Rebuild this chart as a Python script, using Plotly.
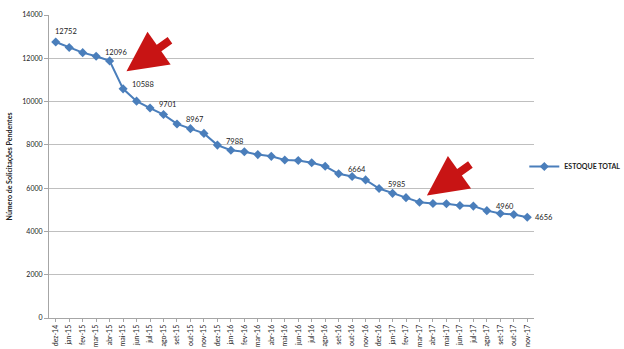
import plotly.graph_objects as go

months = ["dez-14", "jan-15", "fev-15", "mar-15", "abr-15", "mai-15", "jun-15", "jul-15",
          "ago-15", "set-15", "out-15", "nov-15", "dez-15", "jan-16", "fev-16", "mar-16",
          "abr-16", "mai-16", "jun-16", "jul-16", "ago-16", "set-16", "out-16", "nov-16",
          "dez-16", "jan-17", "fev-17", "mar-17", "abr-17", "mai-17", "jun-17", "jul-17",
          "ago-17", "set-17", "out-17", "nov-17"]
estoque = [12752, 12500, 12260, 12096, 11880, 10588, 10020, 9701,
           9400, 8967, 8750, 8530, 7988, 7750, 7680, 7550,
           7470, 7300, 7280, 7170, 7010, 6664, 6540, 6380,
           5985, 5760, 5560, 5350, 5290, 5280, 5200, 5170,
           4960, 4830, 4780, 4656]
labeled_idx = [0, 3, 5, 7, 9, 12, 21, 24, 32, 35]
series_name = "ESTOQUE TOTAL"
yticks = [0, 2000, 4000, 6000, 8000, 10000, 12000, 14000]
ytick_text = ["0", "2000", "4000", "6000", "8000", "10000", "12000", "14000"]
# arrow tips (category position, value)
arrow_tips = [(5.25, 11400), (27.55, 5660)]

blue = "#4A7EBB"
font = "Lato"

fig = go.Figure()
fig.add_trace(go.Scatter(
    x=list(range(len(months))), y=estoque, mode="lines+markers", name=series_name,
    line=dict(color=blue, width=2),
    marker=dict(symbol="diamond", size=7, color=blue),
))

anns = []
for i in labeled_idx:
    if i == 0:
        anns.append(dict(x=i, y=estoque[i], text=str(estoque[i]), showarrow=False,
                         xanchor="left", yanchor="bottom", xshift=-3, yshift=4))
    elif i == len(months) - 1:
        anns.append(dict(x=i, y=estoque[i], text=str(estoque[i]), showarrow=False,
                         xanchor="left", yanchor="middle", xshift=6, yshift=0))
    else:
        anns.append(dict(x=i, y=estoque[i], text=str(estoque[i]), showarrow=False,
                         xanchor="left", yanchor="middle", xshift=7, yshift=4))
for a in anns:
    a["font"] = dict(family=font, size=7.5, color="#222")

for (tx, ty) in arrow_tips:
    anns.append(dict(x=tx, y=ty, text="", showarrow=True, ax=45, ay=-32,
                     arrowcolor="#C81414", arrowwidth=8, arrowhead=2, arrowsize=1.0,
                     standoff=0, startstandoff=0))

fig.update_layout(
    width=624, height=349,
    margin=dict(l=49, r=90, t=15, b=31, autoexpand=False),
    paper_bgcolor="white", plot_bgcolor="white",
    font=dict(family=font, size=8, color="#222"),
    annotations=anns,
    showlegend=True,
    legend=dict(x=0.98, y=0.5, xanchor="left", yanchor="middle",
                font=dict(family=font, size=7, color="#222", weight="bold"),
                bgcolor="rgba(0,0,0,0)", itemwidth=30),
    xaxis=dict(
        tickmode="array", tickvals=list(range(len(months))), ticktext=months,
        range=[-0.5, len(months) - 0.5], tickangle=-90, automargin=False,
        showgrid=False, showline=True, linecolor="#A6A6A6", linewidth=1,
        ticks="outside", ticklen=3, tickcolor="#A6A6A6", tickson="boundaries",
        tickfont=dict(family=font, size=7, color="#222"), zeroline=False,
    ),
    yaxis=dict(
        range=[0, 14000], tickmode="array", tickvals=yticks, ticktext=ytick_text,
        automargin=False,
        showgrid=True, gridcolor="#BFBFBF", gridwidth=1,
        showline=True, linecolor="#A6A6A6", linewidth=1,
        ticks="outside", ticklen=4, tickcolor="#A6A6A6",
        tickfont=dict(family=font, size=7, color="#222"), zeroline=False,
        title=dict(text="<b>Número de Solicitações Pendentes</b>",
                   font=dict(family=font, size=7, color="#222"), standoff=8),
    ),
)

fig.write_html("out.html")
